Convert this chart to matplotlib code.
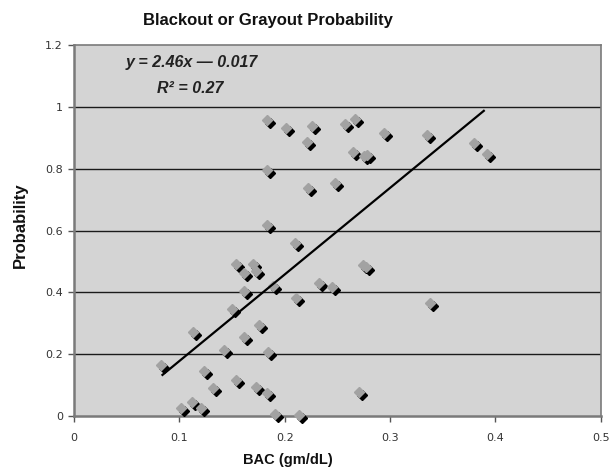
import matplotlib
matplotlib.use("Agg")
import matplotlib.pyplot as plt
import matplotlib.transforms as mtransforms

# BAC (gm/dL) vs probability of blackout / grayout
bac = [0.083, 0.102, 0.112, 0.121, 0.113, 0.123, 0.132, 0.142, 0.150, 0.154,
       0.154, 0.161, 0.161, 0.161, 0.170, 0.173, 0.176, 0.173, 0.183, 0.184,
       0.183, 0.189, 0.191, 0.210, 0.211, 0.214, 0.233, 0.245, 0.274, 0.277,
       0.338, 0.271, 0.183, 0.201, 0.226, 0.221, 0.183, 0.222, 0.248, 0.257,
       0.267, 0.265, 0.294, 0.335, 0.380, 0.392, 0.275, 0.278]
prob = [0.165, 0.025, 0.046, 0.027, 0.273, 0.147, 0.092, 0.214, 0.345, 0.116,
        0.492, 0.464, 0.405, 0.257, 0.492, 0.469, 0.294, 0.095, 0.073, 0.208,
        0.618, 0.420, 0.006, 0.559, 0.381, 0.003, 0.431, 0.417, 0.490, 0.482,
        0.367, 0.079, 0.958, 0.931, 0.939, 0.886, 0.796, 0.737, 0.753, 0.944,
        0.961, 0.853, 0.915, 0.909, 0.883, 0.848, 0.842, 0.845]

# trend line end points as drawn in the original
trend_x = [0.084, 0.389]
trend_y = [0.133, 0.987]

x_ticks = [0, 0.1, 0.2, 0.3, 0.4, 0.5]
x_labels = ["0", "0.1", "0.2", "0.3", "0.4", "0.5"]
y_ticks = [0, 0.2, 0.4, 0.6, 0.8, 1.0, 1.2]
y_labels = ["0", "0.2", "0.4", "0.6", "0.8", "1", "1.2"]

fig = plt.figure(figsize=(6.13, 4.72), dpi=100)
ax = fig.add_axes([0.1207, 0.1186, 0.8593, 0.7861])
ax.set_facecolor("#d4d4d4")

ax.set_xlim(0, 0.5)
ax.set_ylim(0, 1.2)

# horizontal gridlines
for yv in y_ticks[1:-1]:
    ax.axhline(yv, color="#1a1a1a", linewidth=1.0, zorder=1)

# shadow diamonds, then the grey ones on top
shadow = mtransforms.offset_copy(ax.transData, fig=fig, x=3, y=-3, units="dots")
ax.plot(bac, prob, linestyle="none", marker="D", markersize=5.4,
        color="black", transform=shadow, zorder=3, clip_on=False)
ax.plot(bac, prob, linestyle="none", marker="D", markersize=5.4,
        markerfacecolor="#a2a2a2", markeredgecolor="#a2a2a2",
        zorder=4, clip_on=False)

ax.plot(trend_x, trend_y, color="black", linewidth=1.6, zorder=5)

ax.text(0.049, 1.142, "y = 2.46x \u2014 0.017", fontsize=11.5, fontweight="bold",
        fontstyle="italic", family="Liberation Sans", va="center", ha="left",
        color="#222222")
ax.text(0.110, 1.058, "R\u00b2 = 0.27", fontsize=11.5,
        fontweight="bold", fontstyle="italic", family="Liberation Sans",
        va="center", ha="center", color="#222222")

ax.set_xticks(x_ticks)
ax.set_xticklabels(x_labels)
ax.set_yticks(y_ticks)
ax.set_yticklabels(y_labels)
ax.tick_params(axis="both", direction="out", length=4, width=1,
               color="#555555", labelsize=8, labelcolor="#333333", pad=4)
ax.tick_params(axis="x", pad=8)

for side in ["left", "bottom", "top", "right"]:
    ax.spines[side].set_color("#7a7a7a")
    ax.spines[side].set_linewidth(1.2)
ax.spines["left"].set_linewidth(1.8)
ax.spines["bottom"].set_linewidth(1.8)

fig.text(268 / 613, 1 - 20 / 472, "Blackout or Grayout Probability",
         fontsize=12, fontweight="bold", family="Liberation Sans",
         ha="center", va="center", color="#111111")
fig.text(288 / 613, 1 - 460 / 472, "BAC (gm/dL)", fontsize=10.5,
         fontweight="bold", family="Liberation Sans", ha="center", va="center",
         color="#111111")
fig.text(20 / 613, 1 - 225 / 472, "Probability", fontsize=12,
         fontweight="bold", family="Liberation Sans", ha="center", va="center",
         rotation=90, color="#111111")

fig.savefig("out.png", dpi=100)
